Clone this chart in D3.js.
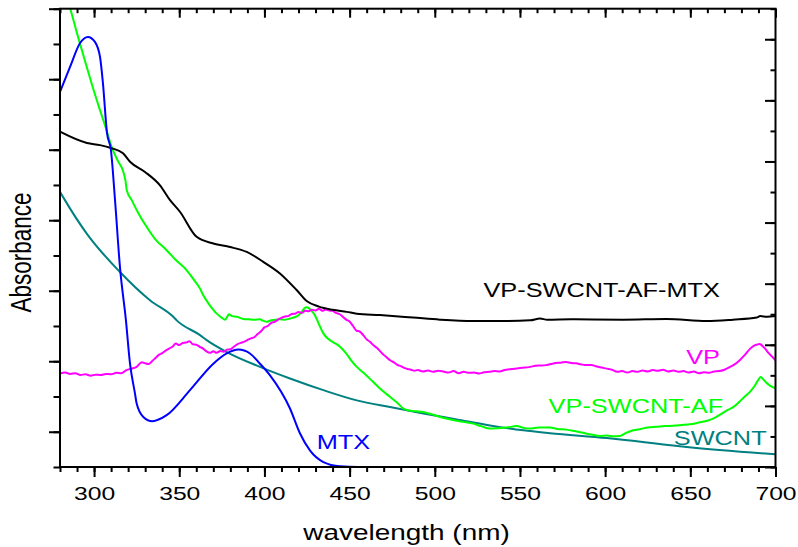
<!DOCTYPE html>
<html>
<head>
<meta charset="utf-8">
<script src="https://cdn.jsdelivr.net/npm/d3@7"></script>
<style>
  html, body { margin: 0; padding: 0; background: #fff; }
  svg { display: block; }
  text { font-family: "Liberation Sans", Arial, sans-serif; }
</style>
</head>
<body>
<svg id="chart" width="798" height="547"></svg>
<script>
// UV-Vis absorbance spectra, [wavelength (nm), absorbance (a.u.)]
const mtx = [
  [280,1.064],[285.9,1.135],[291.7,1.202],[296.4,1.220],[300.5,1.206],[303.5,1.163],
  [305.2,1.089],[307.6,0.947],[309.9,0.899],[312.3,0.757],[315.2,0.567],[318.7,0.416],
  [321.1,0.293],[324,0.209],[325,0.180],[328.9,0.142],[334.2,0.130],[342.6,0.147],
  [356.3,0.218],[370,0.293],[377.9,0.322],[384.7,0.333],[391.5,0.322],[397.4,0.293],
  [403.3,0.260],[415,0.166],[420.9,0.095],[426.7,0.047],[434.6,0.014],[444.4,0.002],
  [455,0],[500,0],[600,0],[700,0]
];

const vpSwcntAfMtx = [
  [280,0.951],[295.8,0.919],[303.5,0.913],[309.9,0.905],[317,0.890],[321.1,0.866],
  [329.9,0.837],[338.7,0.799],[344.6,0.757],[350.4,0.724],[360.2,0.653],[370,0.634],
  [379.8,0.624],[389.6,0.610],[399.3,0.582],[409.1,0.549],[418.9,0.502],[425,0.470],
  [432,0.455],[440,0.446],[448.3,0.440],[454.2,0.435],[467.8,0.431],[487.2,0.424],
  [503,0.418],[522.6,0.414],[542.2,0.414],[556,0.416],[561.8,0.421],[566,0.418],
  [580,0.419],[610.7,0.418],[636,0.420],[659.6,0.414],[675,0.418],[689,0.424],
  [691,0.428],[695,0.426],[700,0.428]
];

const vp = [
  [280,0.265],[283,0.268],[286,0.264],[289,0.266],[292,0.261],[295,0.263],[298,0.259],
  [301,0.262],[304,0.261],[307,0.264],[310,0.263],[313,0.267],[316,0.266],[319,0.275],
  [322,0.279],[325,0.284],[328,0.297],[330,0.294],[332,0.292],[334,0.300],[336,0.309],
  [338,0.318],[340,0.323],[342,0.330],[344,0.336],[346,0.341],[348,0.350],[350,0.346],
  [352,0.352],[354,0.353],[356,0.357],[358,0.348],[360,0.347],[362,0.341],[364,0.336],
  [366,0.328],[368,0.324],[370,0.328],[372,0.324],[374,0.329],[376,0.327],[378,0.333],
  [380,0.334],[382,0.341],[384,0.348],[386,0.352],[388,0.355],[390,0.360],[392,0.365],
  [394,0.368],[396,0.377],[398,0.385],[400,0.396],[402,0.400],[404,0.409],[406,0.412],
  [408,0.418],[410,0.423],[412,0.427],[414,0.428],[416,0.434],[418,0.435],[420,0.440],
  [422,0.437],[424,0.443],[426,0.442],[428,0.446],[430,0.444],[432,0.449],[434,0.443],
  [436,0.447],[438,0.444],[440,0.443],[442,0.437],[444,0.434],[446,0.426],[448,0.418],
  [450,0.413],[452,0.400],[454,0.387],[456,0.384],[458,0.374],[460,0.362],[462,0.355],
  [464,0.345],[466,0.338],[468,0.328],[470,0.318],[472,0.310],[474,0.302],[476,0.297],
  [478,0.290],[480,0.286],[482,0.281],[484,0.278],[486,0.276],[488,0.273],[490,0.275],
  [493,0.271],[496,0.274],[499,0.270],[502,0.273],[505,0.271],[508,0.268],[511,0.272],
  [514,0.266],[517,0.270],[520,0.267],[523,0.268],[526,0.265],[529,0.269],[532,0.270],
  [535,0.272],[538,0.271],[541,0.275],[544,0.277],[547,0.279],[550,0.281],[553,0.282],
  [556,0.284],[559,0.287],[562,0.288],[565,0.289],[568,0.292],[571,0.295],[574,0.296],
  [577,0.298],[580,0.295],[583,0.294],[586,0.291],[589,0.289],[592,0.289],[595,0.285],
  [598,0.282],[601,0.279],[604,0.276],[607,0.270],[610,0.272],[613,0.268],[616,0.272],
  [619,0.270],[622,0.274],[625,0.271],[628,0.275],[631,0.273],[634,0.276],[637,0.271],
  [640,0.274],[643,0.270],[646,0.272],[649,0.268],[652,0.271],[655,0.266],[658,0.269],
  [661,0.267],[664,0.271],[667,0.272],[670,0.276],[673,0.283],[676,0.291],[679,0.303],
  [682,0.318],[685,0.335],[687,0.343],[689,0.347],[690.5,0.349],[692,0.345],[694,0.335],
  [696,0.323],[698,0.313],[700,0.303]
];

const vpSwcntAf = [
  [280,1.40],[284,1.33],[286,1.30],[290,1.23],[295.7,1.135],[300,1.065],[303.5,1.012],
  [307,0.960],[310.3,0.908],[314,0.868],[317.2,0.837],[318.5,0.810],[319.2,0.785],
  [322.1,0.757],[326,0.720],[330.9,0.681],[336,0.646],[342.6,0.615],[348,0.587],
  [354.4,0.558],[358,0.535],[362.2,0.506],[364.1,0.487],[367,0.465],[370,0.446],
  [372,0.435],[374,0.427],[376.9,0.418],[378,0.425],[379.2,0.433],[381,0.428],
  [384,0.426],[387.6,0.420],[391,0.419],[394,0.418],[397.4,0.419],[399,0.415],
  [401.3,0.412],[404,0.416],[407,0.418],[409.1,0.419],[412,0.418],[415,0.421],
  [417,0.424],[419,0.427],[421.9,0.440],[423.5,0.450],[424.8,0.453],[426.2,0.450],
  [427.7,0.443],[429.7,0.430],[432,0.405],[434.6,0.379],[437,0.365],[440,0.355],
  [444.4,0.341],[448,0.322],[451,0.302],[454.2,0.284],[458,0.268],[463.9,0.241],
  [468,0.222],[473.7,0.199],[478,0.182],[481.5,0.166],[485,0.160],[489,0.158],
  [493.3,0.156],[498,0.150],[503.1,0.142],[508,0.136],[512.9,0.131],[517,0.128],
  [522.6,0.123],[527,0.116],[532.4,0.109],[537,0.110],[542.2,0.112],[548.1,0.116],
  [552,0.111],[555.9,0.109],[561,0.112],[567.6,0.112],[572,0.108],[577.4,0.106],
  [582,0.102],[587,0.097],[592,0.092],[597,0.088],[601,0.089],[605,0.087],[608.7,0.088],
  [612,0.096],[616.5,0.104],[621,0.108],[625,0.112],[630.3,0.114],[635,0.116],
  [640,0.117],[645,0.119],[649.8,0.121],[655,0.126],[660,0.131],[663.4,0.137],
  [668,0.150],[672,0.162],[675.2,0.170],[679,0.186],[682,0.200],[685,0.213],[688,0.232],
  [690,0.248],[691.3,0.255],[692.5,0.250],[694.8,0.238],[697,0.230],[700,0.223]
];

const swcnt = [
  [280,0.781],[282.9,0.757],[295.7,0.662],[315.2,0.553],[332.8,0.473],[346.5,0.426],
  [348.5,0.416],[362.2,0.374],[366.1,0.360],[377.9,0.326],[397.4,0.284],[415,0.251],
  [434.6,0.218],[454.2,0.189],[473.7,0.170],[493.3,0.152],[512.9,0.135],[532.4,0.118],
  [552,0.104],[567.6,0.096],[600.9,0.082],[640,0.061],[647.9,0.057],[700,0.036]
];

const seriesNames = ["SWCNT", "VP-SWCNT-AF", "VP", "VP-SWCNT-AF-MTX", "MTX"];
const seriesData = [swcnt, vpSwcntAf, vp, vpSwcntAfMtx, mtx];
const seriesColors = ["#008080", "#00ff00", "#ff00ff", "#000000", "#0000ff"];

// axis ticks
const xDomain = [280, 700];
const xMajorTicks = [300, 350, 400, 450, 500, 550, 600, 650, 700];
const xMinorTicks = d3.range(280, 701, 10);
const yLeftTicks = d3.range(0, 14).map(i => i / 10);
const yLeftMajor = yLeftTicks.filter((v, i) => i % 2 === 1);
const yRightTicks = d3.range(0, 16);
const yRightMajor = yRightTicks.filter(v => v % 2 === 0);

// layout
const svg = d3.select("#chart");
const W = 798, H = 547;
const margin = { top: 8.7, right: 22.5, bottom: 80, left: 60 };
const iw = W - margin.left - margin.right;
const ih = H - margin.top - margin.bottom;
const stretch = 1.3; // wide letterforms
const font = "Liberation Sans, Arial, sans-serif";

const x = d3.scaleLinear().domain(xDomain).range([0, iw]);
const y = d3.scaleLinear().domain([0, 1.3]).range([ih, 0]);
const yR = d3.scaleLinear().domain([0, 15]).range([ih, 0]);

const g = svg.append("g").attr("transform", `translate(${margin.left},${margin.top})`);

g.append("clipPath").attr("id", "plot-clip")
  .append("rect").attr("width", iw).attr("height", ih);

// spectra
const line = d3.line().x(d => x(d[0])).y(d => y(d[1])).curve(d3.curveMonotoneX);
g.append("g").attr("clip-path", "url(#plot-clip)")
  .selectAll("path").data(seriesData).join("path")
  .attr("d", line)
  .attr("fill", "none")
  .attr("stroke", (d, i) => seriesColors[i])
  .attr("stroke-width", 2)
  .attr("stroke-linejoin", "round");

// axes
function styleAxis(sel) {
  sel.select(".domain").remove();
  sel.selectAll(".tick line").attr("stroke", "#000").attr("stroke-width", 2);
}

g.append("g").attr("transform", `translate(0,${ih})`)
  .call(d3.axisBottom(x).tickValues(xMinorTicks).tickSize(5).tickFormat(""))
  .call(styleAxis);
const bottomMajor = g.append("g").attr("transform", `translate(0,${ih})`)
  .call(d3.axisBottom(x).tickValues(xMajorTicks).tickSize(10).tickFormat(d3.format("d")))
  .call(styleAxis);
bottomMajor.selectAll(".tick text")
  .attr("y", null).attr("dy", null)
  .attr("transform", `translate(0,33) scale(${stretch},1)`)
  .attr("fill", "#000")
  .style("font-size", "19px")
  .style("font-family", font);

g.append("g")
  .call(d3.axisTop(x).tickValues(xMinorTicks).tickSize(-4.5).tickFormat(""))
  .call(styleAxis);
g.append("g")
  .call(d3.axisTop(x).tickValues(xMajorTicks).tickSize(-9).tickFormat(""))
  .call(styleAxis);

g.append("g")
  .call(d3.axisLeft(y).tickValues(yLeftTicks).tickSize(6.5).tickFormat(""))
  .call(styleAxis);
g.append("g")
  .call(d3.axisLeft(y).tickValues(yLeftMajor).tickSize(11).tickFormat(""))
  .call(styleAxis);

g.append("g").attr("transform", `translate(${iw},0)`)
  .call(d3.axisRight(yR).tickValues(yRightTicks).tickSize(-5).tickFormat(""))
  .call(styleAxis);
g.append("g").attr("transform", `translate(${iw},0)`)
  .call(d3.axisRight(yR).tickValues(yRightMajor).tickSize(-10.5).tickFormat(""))
  .call(styleAxis);

// frame
g.append("rect").attr("width", iw).attr("height", ih)
  .attr("fill", "none").attr("stroke", "#000").attr("stroke-width", 2);

// axis titles
svg.append("text")
  .attr("transform", `translate(406.5,540) scale(${stretch},1)`)
  .attr("text-anchor", "middle")
  .style("font-size", "21.5px")
  .text("wavelength (nm)");

svg.append("text")
  .attr("transform", `translate(31,252.5) scale(${stretch},1) rotate(-90)`)
  .attr("text-anchor", "middle")
  .style("font-size", "22.5px")
  .text("Absorbance");

// curve labels, anchored in data space
const labelLayout = {
  "VP-SWCNT-AF-MTX": { at: [667.4, 0.483], anchor: "end" },
  "VP":              { at: [667.4, 0.292], anchor: "end" },
  "VP-SWCNT-AF":     { at: [669.3, 0.154], anchor: "end" },
  "SWCNT":           { at: [694.8, 0.062], anchor: "end" },
  "MTX":             { at: [430.7, 0.050], anchor: "start" }
};
seriesNames.forEach((name, i) => {
  const l = labelLayout[name];
  g.append("text")
    .attr("transform", `translate(${x(l.at[0])},${y(l.at[1])}) scale(${stretch},1)`)
    .attr("text-anchor", l.anchor)
    .attr("fill", seriesColors[i])
    .style("font-size", "19.5px")
    .text(name);
});
</script>
</body>
</html>
